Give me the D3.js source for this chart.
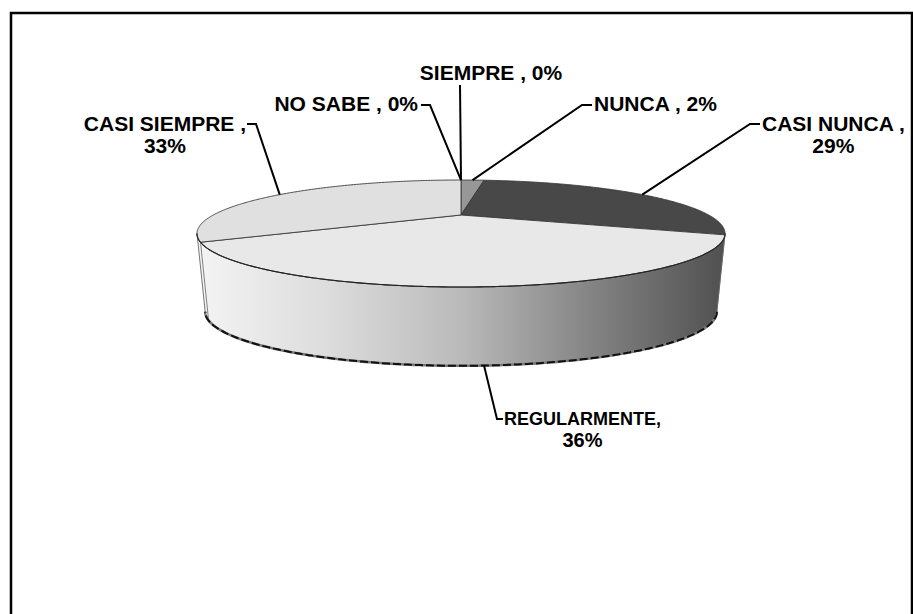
<!DOCTYPE html>
<html>
<head>
<meta charset="utf-8">
<script src="https://cdn.jsdelivr.net/npm/d3@7"></script>
<style>
  html, body { margin: 0; padding: 0; background: #fff; }
  svg { display: block; }
  text { font-family: "Liberation Sans", Arial, sans-serif; font-weight: bold; fill: #000; }
</style>
</head>
<body>
<svg id="chart" width="913" height="614"></svg>
<script>
// Survey answers, clockwise from 12 o'clock
const categories = ["SIEMPRE", "NUNCA", "CASI NUNCA", "REGULARMENTE", "CASI SIEMPRE", "NO SABE"];
const values     = [0, 2, 29, 36, 33, 0];
const topColors  = ["#9a9a9a", "#979797", "#484848", "#e8e8e8", "#e0e0e0", "#bdbdbd"];

const svg = d3.select("#chart");
const W = 913, H = 614;

// Outer frame
svg.append("rect")
  .attr("x", 11).attr("y", 13)
  .attr("width", 901).attr("height", H + 10)
  .attr("fill", "none").attr("stroke", "#000").attr("stroke-width", 2.5);

// Perspective projection of the disc: theta measured clockwise from the far point
const cx = 461, k = 0.346;
const topFace = { cy: 215, A: 247.7, B: 47.1 };
const botFace = { cy: 293, A: 240.0, B: 47.6 };
function proj(theta, face) {
  const u = Math.sin(theta), v = -Math.cos(theta), w = 1 - k * v;
  return [cx + face.A * u / w, face.cy + face.B * v / w];
}
function arcPts(a0, a1, face) {
  const n = Math.max(2, Math.ceil(Math.abs(a1 - a0) / (Math.PI / 360)));
  return d3.range(n + 1).map(i => proj(a0 + (a1 - a0) * i / n, face));
}

const pie = d3.pie().sort(null).startAngle(0).endAngle(2 * Math.PI);
const arcs = pie(values).map((d, i) => ({ ...d, name: categories[i], color: topColors[i] }));

const line = d3.line();

// Visible side wall: between the silhouette angles (where the rim is tangent to vertical)
const sil0 = Math.acos(-k), sil1 = 2 * Math.PI - Math.acos(-k);
const defs = svg.append("defs");
const grad = defs.append("linearGradient").attr("id", "wallGrad")
  .attr("gradientUnits", "userSpaceOnUse")
  .attr("x1", cx - 264).attr("x2", cx + 264).attr("y1", 0).attr("y2", 0);
[[0, "#f4f4f4"], [0.25, "#dcdcdc"], [0.5, "#bababa"], [0.75, "#838383"], [1, "#505050"]]
  .forEach(([o, c]) => grad.append("stop").attr("offset", o).attr("stop-color", c));

const wallTop = arcPts(sil0, sil1, topFace);
const wallBot = arcPts(sil1, sil0, botFace);
svg.append("path")
  .attr("d", line(wallTop.concat(wallBot)) + "Z")
  .attr("fill", "url(#wallGrad)")
  .attr("stroke", "#555").attr("stroke-width", 0.8);

// Vertical seams where slice boundaries cross the visible wall
arcs.forEach(d => {
  const a = d.endAngle;
  if (a > sil0 && a < sil1 && d.endAngle - d.startAngle > 0) {
    svg.append("path")
      .attr("d", line([proj(a, topFace), proj(a, botFace)]))
      .attr("stroke", "#666").attr("stroke-width", 0.8).attr("fill", "none");
  }
});

// Bottom rim edge
svg.append("path")
  .attr("d", line(arcPts(sil0, sil1, botFace)))
  .attr("fill", "none").attr("stroke", "#7a7a7a").attr("stroke-width", 2.6);
svg.append("path")
  .attr("d", line(arcPts(sil0, sil1, botFace)))
  .attr("fill", "none").attr("stroke", "#111").attr("stroke-width", 2)
  .attr("stroke-dasharray", "8,3");

// Top face slices
const apex = [cx, topFace.cy];
svg.append("g").selectAll("path")
  .data(arcs.filter(d => d.endAngle > d.startAngle))
  .join("path")
  .attr("d", d => line([apex].concat(arcPts(d.startAngle, d.endAngle, topFace))) + "Z")
  .attr("fill", d => d.color)
  .attr("stroke", "#3a3a3a").attr("stroke-width", 0.9)
  .attr("stroke-linejoin", "round");

// Front rim of the top face
svg.append("path")
  .attr("d", line(arcPts(sil0, sil1, topFace)))
  .attr("fill", "none").attr("stroke", "#222").attr("stroke-width", 1.1);

// Data labels with leader lines
const labelLayout = {
  "SIEMPRE":      { face: topFace, lines: 1, x: 491, y: 80,  align: "middle", size: 21, path: [[460, 85]] },
  "NO SABE":      { face: topFace, lines: 1, x: 418, y: 111, align: "end",    size: 21, path: [[430, 105], [421, 105]] },
  "NUNCA":        { face: topFace, lines: 1, x: 594, y: 111, align: "start",  size: 21, path: [[582, 105], [592, 105]] },
  "CASI NUNCA":   { face: topFace, lines: 2, x: 762, y: 131, align: "start",  size: 21, path: [[750, 124], [760, 124]] },
  "CASI SIEMPRE": { face: topFace, lines: 2, x: 246, y: 131, align: "end",    size: 21, path: [[256, 124], [247, 124]] },
  "REGULARMENTE": { face: botFace, lines: 2, x: 504, y: 425, align: "start",  size: 18, size2: 20, path: [[497, 419], [503, 419]], sep: "," }
};

const gLab = svg.append("g");
arcs.forEach(d => {
  const L = labelLayout[d.name];
  const mid = (d.startAngle + d.endAngle) / 2;
  const anchor = proj(mid, L.face);
  gLab.append("path")
    .attr("d", line([anchor].concat(L.path)))
    .attr("fill", "none").attr("stroke", "#000").attr("stroke-width", 2);

  const sep = L.sep || " ,";
  const pct = d.data + "%";
  if (L.lines === 1) {
    gLab.append("text").attr("x", L.x).attr("y", L.y)
      .attr("text-anchor", L.align).attr("font-size", L.size)
      .text(`${d.name}${sep} ${pct}`);
  } else {
    const t1 = gLab.append("text").attr("x", L.x).attr("y", L.y)
      .attr("text-anchor", L.align).attr("font-size", L.size)
      .text(`${d.name}${sep}`);
    const w = t1.node().getComputedTextLength();
    const left = L.align === "end" ? L.x - w : L.x;
    gLab.append("text").attr("x", left + w / 2).attr("y", L.y + 22)
      .attr("text-anchor", "middle").attr("font-size", L.size2 || L.size)
      .text(pct);
  }
});
</script>
</body>
</html>
